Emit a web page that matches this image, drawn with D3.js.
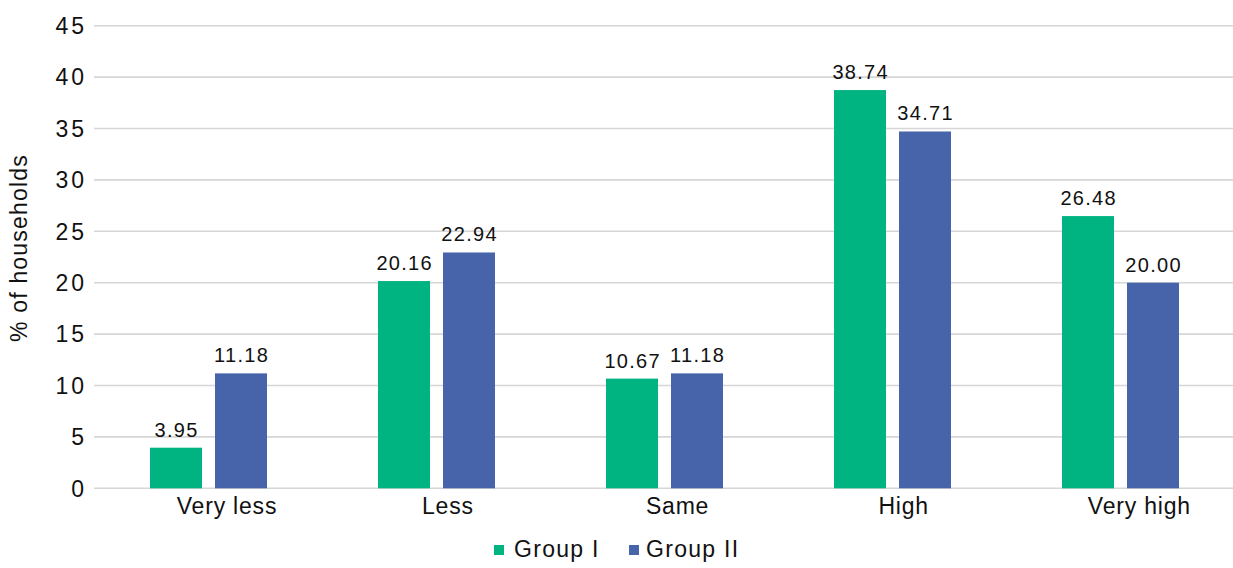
<!DOCTYPE html>
<html>
<head>
<meta charset="utf-8">
<script src="https://cdn.jsdelivr.net/npm/d3@7"></script>
<style>
  html, body { margin: 0; padding: 0; background: #fff; }
  svg { display: block; }
  text { font-family: "Liberation Sans", Arial, Helvetica, sans-serif; fill: #111; }
</style>
</head>
<body>
<svg id="chart" width="1233" height="568"></svg>
<script>
// Share of households by perceived change, two survey groups
const categories = ["Very less", "Less", "Same", "High", "Very high"];
const groups = ["Group I", "Group II"];
const groupI = [3.95, 20.16, 10.67, 38.74, 26.48];
const groupII = [11.18, 22.94, 11.18, 34.71, 20.00];
const yTicks = [0, 5, 10, 15, 20, 25, 30, 35, 40, 45];
const colors = ["#00b482", "#4763aa"];

const svg = d3.select("#chart");
const W = 1233;

const plot = { left: 94.5, right: 1234.5, top: 25.7, bottom: 488.3 };

const y = d3.scaleLinear().domain([0, 45]).range([plot.bottom, plot.top]);

const pad = 111 / 228;
const x0 = d3.scaleBand()
  .domain(categories)
  .range([plot.left, plot.right])
  .paddingInner(pad)
  .paddingOuter(pad / 2);

const x1 = d3.scaleBand()
  .domain(groups)
  .range([0, x0.bandwidth()])
  .paddingInner(0.2)
  .paddingOuter(0);

// gridlines
svg.append("g").selectAll("line")
  .data(yTicks)
  .join("line")
  .attr("x1", 94).attr("x2", W)
  .attr("y1", d => y(d)).attr("y2", d => y(d))
  .attr("stroke", "#d6d6d6")
  .attr("stroke-width", 1.6);

// y tick labels
svg.append("g").selectAll("text")
  .data(yTicks)
  .join("text")
  .attr("x", 84 + 3)
  .attr("y", d => y(d))
  .attr("dy", "0.36em")
  .attr("text-anchor", "end")
  .style("font-size", "23px")
  .style("letter-spacing", "3px")
  .text(d => d);

// y axis title
svg.append("text")
  .attr("transform", `translate(27, ${(plot.top + plot.bottom) / 2 - 9}) rotate(-90)`)
  .attr("text-anchor", "middle")
  .style("font-size", "23px")
  .style("letter-spacing", "1.2px")
  .text("% of households");

// bars
const rows = categories.map((c, i) => ({ cat: c, vals: [groupI[i], groupII[i]] }));

const catG = svg.append("g").selectAll("g")
  .data(rows)
  .join("g")
  .attr("transform", d => `translate(${x0(d.cat)},0)`);

catG.selectAll("rect")
  .data(d => d.vals.map((v, j) => ({ g: groups[j], v, j })))
  .join("rect")
  .attr("x", d => x1(d.g))
  .attr("width", x1.bandwidth())
  .attr("y", d => y(d.v))
  .attr("height", d => y(0) - y(d.v))
  .attr("fill", d => colors[d.j]);

// value labels
catG.selectAll("text.val")
  .data(d => d.vals.map((v, j) => ({ g: groups[j], v, j })))
  .join("text")
  .attr("class", "val")
  .attr("x", d => x1(d.g) + x1.bandwidth() / 2 + 0.65)
  .attr("y", d => y(d.v) - 11)
  .attr("text-anchor", "middle")
  .style("font-size", "20px")
  .style("letter-spacing", "1.3px")
  .text(d => d.v.toFixed(2));

// category labels
svg.append("g").selectAll("text")
  .data(categories)
  .join("text")
  .attr("y", 514)
  .attr("text-anchor", "middle")
  .style("font-size", "23px")
  .style("letter-spacing", "0.8px")
  .text(d => d)
  .attr("x", function (d) {
    const w = this.getComputedTextLength();
    return x0(d) + x0.bandwidth() / 2 + 3.9 + 0.145 * w;
  });

// legend
const legendX = [494, 629];
const leg = svg.append("g").selectAll("g")
  .data(groups)
  .join("g")
  .attr("transform", (d, i) => `translate(${legendX[i]},545)`);
leg.append("rect")
  .attr("width", 10).attr("height", 10)
  .attr("fill", (d, i) => colors[i]);
leg.append("text")
  .attr("x", (d, i) => i === 0 ? 20 : 17)
  .attr("y", 12)
  .style("font-size", "23px")
  .style("letter-spacing", "1.3px")
  .text(d => d);
</script>
</body>
</html>
